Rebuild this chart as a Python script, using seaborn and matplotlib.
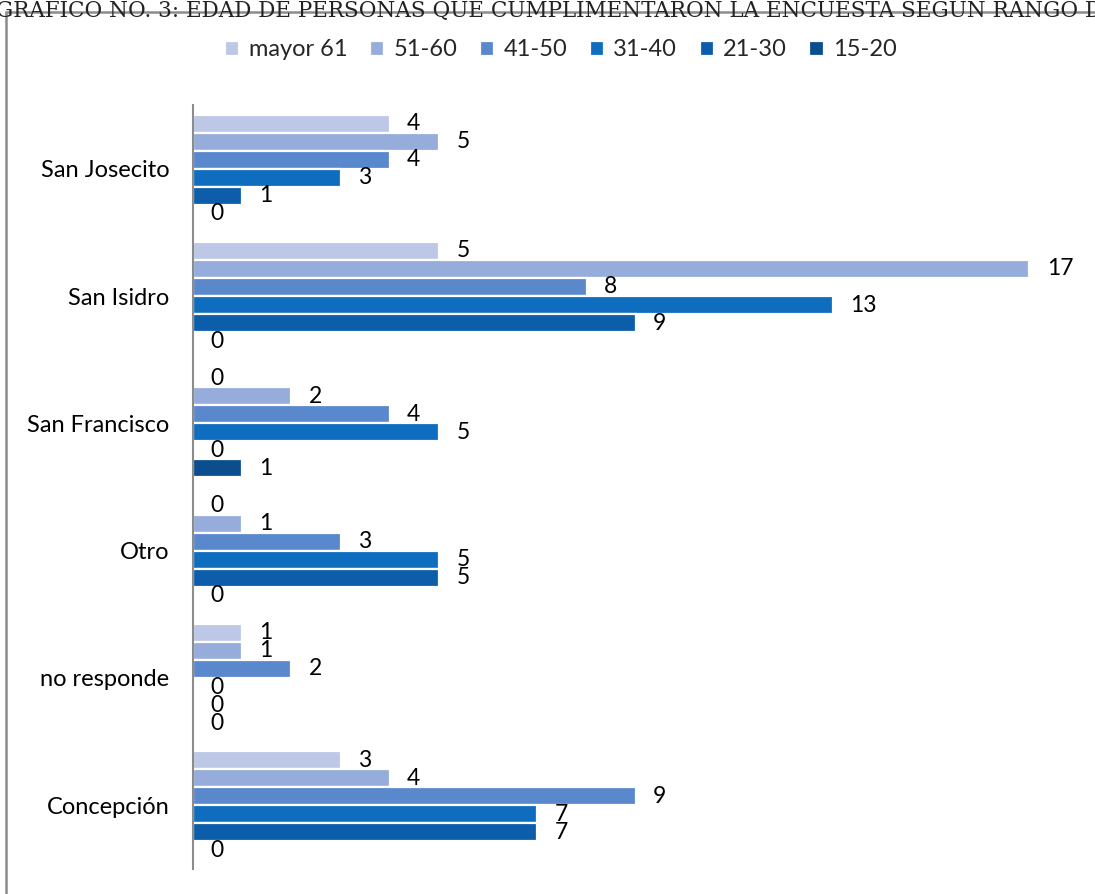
import matplotlib
matplotlib.use("Agg")
import matplotlib.pyplot as plt
from matplotlib.patches import Rectangle
import pandas as pd
import seaborn as sns

# Survey responses: respondents by community and age range
communities = ["San Josecito", "San Isidro", "San Francisco", "Otro", "no responde", "Concepción"]
age_groups = ["mayor 61", "51-60", "41-50", "31-40", "21-30", "15-20"]
mayor_61 = [4, 5, 0, 0, 1, 3]
r51_60 = [5, 17, 2, 1, 1, 4]
r41_50 = [4, 8, 4, 3, 2, 9]
r31_40 = [3, 13, 5, 5, 0, 7]
r21_30 = [1, 9, 0, 5, 0, 7]
r15_20 = [0, 0, 1, 0, 0, 0]
palette = ["#BDC7E6", "#96ADDB", "#5A88CC", "#0F6DC0", "#0C5EAB", "#0B4E8E"]

series = [mayor_61, r51_60, r41_50, r31_40, r21_30, r15_20]
rows = []
for grp, vals in zip(age_groups, series):
    for com, v in zip(communities, vals):
        rows.append({"Comunidad": com, "Edad": grp, "Personas": v})
df = pd.DataFrame(rows)

sns.set_theme(style="white")
plt.rcParams["font.family"] = ["Lato", "DejaVu Sans"]

W, H = 1095, 894
fig = plt.figure(figsize=(W / 100, H / 100), dpi=100)
fig.patch.set_facecolor("white")

# Outer chart frame (extends past the right and bottom edges)
fig.patches.append(Rectangle((6 / W, -0.2), 1.5, 1.2 - 12 / H, transform=fig.transFigure,
                             fill=False, edgecolor="#8C8C8C", linewidth=1.8, zorder=0))

# Title line across the top
fig.text(-4 / W, 1 + 2 / H,
         "GRÁFICO NO. 3: EDAD DE PERSONAS QUE CUMPLIMENTARON LA ENCUESTA SEGÚN RANGO DE",
         ha="left", va="top", fontsize=15.5, family="DejaVu Serif", color="#222222")

ax_left, ax_top, ax_bottom = 193, 105, 869
ax = fig.add_axes([ax_left / W, (H - ax_bottom) / H, (W - ax_left) / W, (ax_bottom - ax_top) / H])

sns.barplot(data=df, y="Comunidad", x="Personas", hue="Edad", order=communities,
            hue_order=age_groups, palette=palette, orient="h", width=0.85,
            edgecolor="white", linewidth=1.6, saturation=1, ax=ax)

per_unit = 49.2
ax.set_xlim(0, (W - ax_left) / per_unit)
ax.set_ylim(5.5, -0.5)

for cont, vals in zip(ax.containers, series):
    ax.bar_label(cont, labels=[str(v) for v in vals], padding=12.5, fontsize=16.5, color="black")

ax.set_xlabel("")
ax.set_ylabel("")
ax.set_xticks([])
ax.tick_params(axis="y", length=0, pad=17, labelsize=17, labelcolor="black")
for side in ["top", "right", "bottom"]:
    ax.spines[side].set_visible(False)
ax.spines["left"].set_color("#8C8C8C")
ax.spines["left"].set_linewidth(1.5)
ax.patch.set_alpha(0)

handles, labels = ax.get_legend_handles_labels()
ax.get_legend().remove()
fig.legend(handles, labels, loc="center", bbox_to_anchor=(561 / W, 1 - 50 / H), ncol=6,
           frameon=False, fontsize=17, handlelength=0.6, handleheight=0.6,
           handletextpad=0.4, columnspacing=0.95)

fig.savefig("out.png", dpi=100, facecolor="white")
